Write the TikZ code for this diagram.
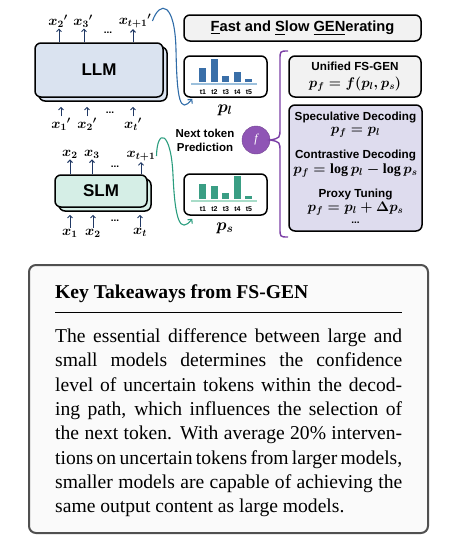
\RequirePackage{fix-cm}
\documentclass[tikz,border=0pt]{standalone}
\usepackage{amsmath}
\usepackage{fontspec}
\setmainfont{Liberation Serif}
\setsansfont{Liberation Sans}
\usetikzlibrary{arrows.meta,calc}

\definecolor{llmfill}{HTML}{DAE3F0}
\definecolor{slmfill}{HTML}{D5EEE6}
\definecolor{tokblue}{HTML}{203864}
\definecolor{curveblue}{HTML}{2F6CA8}
\definecolor{curveteal}{HTML}{2A9D7E}
\definecolor{barblue}{HTML}{3A6FA8}
\definecolor{axisblue}{HTML}{9CC0DC}
\definecolor{barteal}{HTML}{3A9E84}
\definecolor{axisteal}{HTML}{A8DCC8}
\definecolor{boxgray}{HTML}{F2F2F2}
\definecolor{lavender}{HTML}{DEDCEE}
\definecolor{fpurple}{HTML}{8F55B5}
\definecolor{bracepurple}{HTML}{7B3FA6}
\definecolor{keyborder}{HTML}{505050}

\begin{document}
\begin{tikzpicture}[x=1pt,y=-1pt,
  box/.style={draw=black,line width=1.5pt,rounded corners=6pt},
  tok/.style={tokblue,line width=1pt,-{Straight Barb[length=2.5pt,width=5pt]}},
  tokfont/.style={font=\fontsize{14}{16}\selectfont\boldmath,inner sep=1pt},
  hd/.style={font=\sffamily\bfseries\fontsize{11.7}{14}\selectfont,inner sep=0pt},
  fm/.style={font=\fontsize{14}{16}\selectfont\boldmath,inner sep=0pt},
  tlab/.style={font=\sffamily\bfseries\fontsize{7}{8}\selectfont,inner sep=0pt},
  dots/.style={font=\sffamily\bfseries\fontsize{10}{12}\selectfont,inner sep=0pt},
]
\useasboundingbox (0,0) rectangle (452,544);

% LLM
\node[box,fill=llmfill,minimum width=128pt,minimum height=54pt] (llmb) at (103,74) {};
\node[box,fill=llmfill,minimum width=128pt,minimum height=54pt,
  font=\sffamily\bfseries\fontsize{17}{20}\selectfont] (llm) at (99,70) {LLM};

\node[tokfont] (lo2) at (58,21) {$x_2{}'$};
\node[tokfont] (lo3) at (83,21) {$x_3{}'$};
\node[dots] (lodots) at (108,33) {...};
\node[tokfont] (lot) at (135,21) {$x_{t+1}{}'$};
\node[tokfont] (li1) at (61,124) {$x_1{}'$};
\node[tokfont] (li2) at (87,124) {$x_2{}'$};
\node[dots] (lidots) at (110,113) {...};
\node[tokfont] (lit) at (133,124) {$x_t{}'$};

\foreach \n in {lo2,lo3} \draw[tok] ([xshift=1pt]\n.south |- llm.north) -- ([xshift=1pt]\n.south);
\draw[tok] ([xshift=-2pt]lot.south |- llm.north) -- ([xshift=-2pt]lot.south);
\foreach \n in {li1,li2,lit} \draw[tok] (\n.north) -- ([yshift=-5pt]\n.north |- llmb.south);

% SLM
\node[box,fill=slmfill,minimum width=92pt,minimum height=32pt] (slmb) at (105,195) {};
\node[box,fill=slmfill,minimum width=92pt,minimum height=32pt,
  font=\sffamily\bfseries\fontsize{17}{20}\selectfont] (slm) at (101,191) {SLM};

\node[tokfont] (so2) at (70,154) {$x_2$};
\node[tokfont] (so3) at (92,154) {$x_3$};
\node[dots] (sodots) at (115,167) {...};
\node[tokfont] (sot) at (141,156) {$x_{t+1}$};
\node[tokfont] (si1) at (70,233) {$x_1$};
\node[tokfont] (si2) at (93,233) {$x_2$};
\node[dots] (sidots) at (115,221) {...};
\node[tokfont] (sit) at (140,232) {$x_t$};

\foreach \n in {so2,so3,sot} \draw[tok] (\n.south |- slm.north) -- (\n.south);
\foreach \n in {si1,si2,sit} \draw[tok] (\n.north) -- ([yshift=-3pt]\n.north |- slmb.south);

% header
\node[box,fill=boxgray,minimum width=237pt,minimum height=26pt,
  font=\sffamily\bfseries\fontsize{14.7}{17}\selectfont] (fsgen) at (302.5,28)
  {\underline{F}ast and \underline{S}low \underline{GEN}erating};

% distributions
\node[box,minimum width=83pt,minimum height=41pt] (plbox) at (225.5,76.5) {};
\foreach \i/\h in {0/14,1/23,2/6,3/10,4/3}
  \fill[barblue] (199+11.5*\i,82) rectangle ++(7,-\h);
\draw[axisblue,line width=1.2pt] (191,84) -- (257,84);
\foreach \i in {1,...,5} \node[tlab] at (191.5+11.5*\i,92) {t\i};
\node[fm,font=\fontsize{17}{19}\selectfont\boldmath] (pl) at (225,110) {$p_l$};

\node[box,minimum width=83pt,minimum height=41pt] (psbox) at (225.5,194.5) {};
\begin{scope}[shift={(0,117)}]
\foreach \i/\h in {0/15,1/13,2/6,3/23,4/3}
  \fill[barteal] (199+11.5*\i,82) rectangle ++(7,-\h);
\draw[axisteal,line width=1.2pt] (191,84) -- (257,84);
\foreach \i in {1,...,5} \node[tlab] at (191.5+11.5*\i,92) {t\i};
\end{scope}
\node[fm,font=\fontsize{17}{19}\selectfont\boldmath] (ps) at (225,228) {$p_s$};

% curves to the distributions
\draw[curveblue,line width=1.1pt,-{Straight Barb[length=3pt,width=6pt]}]
  (lot.east) .. controls (160,0) and (175,2) .. (176,50)
  .. controls (177,100) and (180,114) .. ([xshift=9pt,yshift=-1pt]plbox.south west);
\draw[curveteal,line width=1.1pt,-{Straight Barb[length=3pt,width=6pt]}]
  (sot.east) .. controls (157,128) and (171,130) .. (173,175)
  .. controls (175,220) and (180,234) .. ([xshift=9pt,yshift=-3pt]psbox.south west);

% f and the brace
\node[draw=fpurple!80!black,fill=fpurple,circle,minimum size=28pt,inner sep=0pt,
  text=white,font=\fontsize{12}{14}\selectfont\itshape] (fnode) at (256,140) {f};
\node[font=\sffamily\bfseries\fontsize{11.5}{14}\selectfont,align=center,inner sep=0pt]
  (ntp) at (205,140) {Next token\\Prediction};
\coordinate (btop) at (288,51);
\coordinate (bbot) at (288,237);
\draw[bracepurple,line width=1.4pt] (btop) .. controls (280,51) .. (280,60) -- (280,128)
  .. controls (280,138) .. (fnode.east) .. controls (280,142) .. (280,152) -- (280,228)
  .. controls (280,237) .. (bbot);

% methods
\node[box,fill=boxgray,minimum width=132pt,minimum height=41pt] (unibox) at (355,76.5) {};
\node[hd] (uniname) at (355,66) {Unified FS-GEN};
\node[fm] (unifm) at (355,84) {$p_f = f(p_l, p_s)$};

\node[box,fill=lavender,minimum width=133pt,minimum height=126pt] (methbox) at (355.5,168) {};
\node[hd] (specname) at (355.5,117) {Speculative Decoding};
\node[fm] (specfm) at (355.5,132) {$p_f = p_l$};
\node[hd] (contname) at (355.5,155) {Contrastive Decoding};
\node[fm] (contfm) at (355.5,171) {$p_f = \log p_l - \log p_s$};
\node[hd] (proxname) at (355.5,194) {Proxy Tuning};
\node[fm] (proxfm) at (355.5,209) {$p_f = p_l + \Delta p_s$};
\node[dots] (moredots) at (355.5,223) {...};

% takeaways
\node[draw=keyborder,line width=2pt,rounded corners=7pt,fill=white!98!black,
  minimum width=399pt,minimum height=268pt] (keybox) at (228.5,399) {};
\node[anchor=base west,inner sep=0pt,font=\bfseries\fontsize{19.6}{24}\selectfont]
  (keytitle) at (55,298) {Key Takeaways from FS-GEN};
\draw[line width=1pt] (55,312) -- (402,312);
\node[anchor=north west,inner sep=0pt,text width=347pt,align=justify,
  font=\fontsize{19.6}{24.3}\selectfont] (keybody) at (55,328.5)
  {The essential difference between large and\linebreak
   small models determines the confidence\linebreak
   level of uncertain tokens within the decod-\linebreak
   ing path, which influences the selection of\linebreak
   the next token. With average 20\% interven-\linebreak
   tions on uncertain tokens from larger models,\linebreak
   smaller models are capable of achieving the\linebreak
   same output content as large models.};
\end{tikzpicture}
\end{document}
